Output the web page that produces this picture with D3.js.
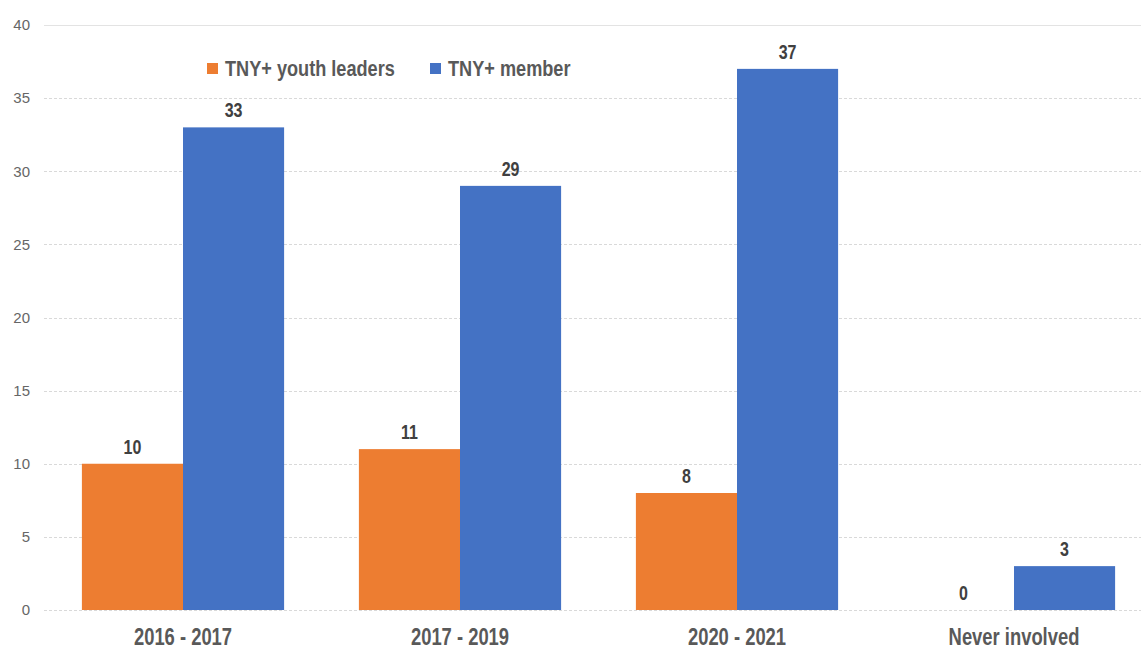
<!DOCTYPE html>
<html>
<head>
<meta charset="utf-8">
<script src="https://cdn.jsdelivr.net/npm/d3@7"></script>
<style>
  html, body { margin: 0; padding: 0; background: #fff; }
  svg { display: block; }
  text { font-family: "Liberation Sans", Arial, sans-serif; }
</style>
</head>
<body>
<svg id="chart" width="1141" height="648"></svg>
<script>
// Involvement period by respondent group
const categories = ["2016 - 2017", "2017 - 2019", "2020 - 2021", "Never involved"];
const seriesNames = ["TNY+ youth leaders", "TNY+ member"];
const youthLeaders = [10, 11, 8, 0];
const members = [33, 29, 37, 3];
const yTicks = [0, 5, 10, 15, 20, 25, 30, 35, 40];
const seriesColors = ["#ED7D31", "#4472C4"];

const seriesValues = [youthLeaders, members];
const rows = categories.map((c, i) => ({
  category: c,
  values: seriesNames.map((s, j) => ({ series: s, value: seriesValues[j][i], color: seriesColors[j] }))
}));

// Bold labels use a horizontally condensed face
const NARROW = 0.8;

const svg = d3.select("#chart");
const W = 1141;

const x = d3.scaleBand()
  .domain(categories)
  .range([44.5, 1152.5])
  .paddingInner(0.27)
  .paddingOuter(0.135);

const xInner = d3.scaleBand()
  .domain(seriesNames)
  .range([0, x.bandwidth()]);

const y = d3.scaleLinear().domain([0, 40]).range([610, 25]);

// Horizontal gridlines
const grid = svg.append("g");
grid.selectAll("line")
  .data(yTicks)
  .join("line")
  .attr("x1", 44)
  .attr("x2", W)
  .attr("y1", d => Math.round(y(d)) + 0.5)
  .attr("y2", d => Math.round(y(d)) + 0.5)
  .attr("stroke", d => d === 40 ? "#e3e3e3" : "#d9d9d9")
  .attr("stroke-width", 1)
  .attr("stroke-dasharray", d => d === 40 ? null : "3,2");

// Y axis labels
const yAxis = d3.axisLeft(y).tickValues(yTicks).tickSize(0).tickPadding(0);
const yg = svg.append("g").attr("transform", "translate(30,0)").call(yAxis);
yg.select(".domain").remove();
yg.selectAll("text")
  .attr("fill", "#666")
  .style("font-size", "15px")
  .style("font-family", "'Liberation Sans', Arial, sans-serif");

// X axis labels
const xAxis = d3.axisBottom(x).tickSize(0).tickPadding(0);
const xg = svg.append("g").attr("transform", "translate(0,645)").call(xAxis);
xg.select(".domain").remove();
xg.selectAll("text")
  .attr("y", 0)
  .attr("dy", 0)
  .attr("transform", `scale(${NARROW},1)`)
  .attr("fill", "#595959")
  .style("font-size", "23px")
  .style("font-weight", "bold")
  .style("font-family", "'Liberation Sans', Arial, sans-serif");

// Bars
const groups = svg.append("g").selectAll("g")
  .data(rows)
  .join("g")
  .attr("transform", d => `translate(${x(d.category)},0)`);

groups.selectAll("rect")
  .data(d => d.values)
  .join("rect")
  .attr("x", d => xInner(d.series))
  .attr("width", xInner.bandwidth())
  .attr("y", d => y(d.value))
  .attr("height", d => y(0) - y(d.value))
  .attr("fill", d => d.color);

// Value labels
groups.selectAll("text.val")
  .data(d => d.values)
  .join("text")
  .attr("class", "val")
  .attr("transform", d =>
    `translate(${xInner(d.series) + xInner.bandwidth() / 2},${y(d.value) - 10}) scale(${NARROW},1)`)
  .attr("text-anchor", "middle")
  .attr("fill", "#404040")
  .style("font-size", "20px")
  .style("font-weight", "bold")
  .text(d => d.value);

// Legend
const legendPos = [207, 430];
const legend = svg.append("g").selectAll("g")
  .data(seriesNames)
  .join("g")
  .attr("transform", (d, i) => `translate(${legendPos[i]},63)`);
legend.append("rect")
  .attr("width", 11)
  .attr("height", 11)
  .attr("fill", (d, i) => seriesColors[i]);
legend.append("text")
  .attr("transform", `translate(18,12.5) scale(${NARROW + 0.025},1)`)
  .attr("fill", "#595959")
  .style("font-size", "22px")
  .style("font-weight", "bold")
  .text(d => d);
</script>
</body>
</html>
